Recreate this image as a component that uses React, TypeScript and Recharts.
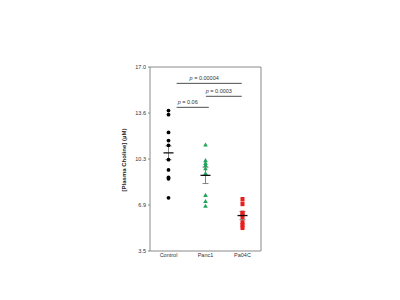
import React from "react";
import {
  ComposedChart,
  Scatter,
  XAxis,
  YAxis,
  ErrorBar,
  ReferenceLine,
} from "recharts";

const groups = ["Control", "Panc1", "Pa04C"];
const yTicks = [3.5, 6.875, 10.25, 13.625, 17.0];
const yMinorTicks = [5.1875, 8.5625, 11.9375, 15.3125];

const controlValues = [13.8, 13.5, 12.2, 11.6, 11.25, 10.2, 9.45, 8.9, 8.8, 7.4];
const panc1Values = [11.3, 10.15, 9.95, 9.8, 9.55, 9.2, 7.6, 7.15, 6.8];
const pa04cValues = [7.3, 6.95, 6.3, 6.2, 6.0, 5.6, 5.4, 5.2];

const groupMeans = [10.7, 9.05, 6.1];
const groupSem = [0.5, 0.6, 0.3];

// significance brackets: [from, to, height, label]
const brackets: [number, number, number, string][] = [
  [1.22, 2.98, 15.8, "0.00004"],
  [2.01, 2.98, 14.85, "0.0003"],
  [1.22, 2.09, 14.04, "0.06"],
];

const AXIS = "#8a8a8a";
const FONT = "Liberation Sans, Arial, sans-serif";

const controlData = controlValues.map((y) => ({ x: 1, y }));
const panc1Data = panc1Values.map((y) => ({ x: 2, y }));
const pa04cData = pa04cValues.map((y) => ({ x: 3, y }));
const meanData = groupMeans.map((y, i) => ({ x: i + 1, y, err: groupSem[i] }));

const Dot = ({ cx, cy }: any) => <circle cx={cx} cy={cy} r={1.9} fill="#000" />;
const Tri = ({ cx, cy }: any) => (
  <polygon
    points={`${cx},${cy - 2.3} ${cx - 2.3},${cy + 1.8} ${cx + 2.3},${cy + 1.8}`}
    fill="#1fa55a"
  />
);
const Sq = ({ cx, cy }: any) => (
  <rect x={cx - 2} y={cy - 2.2} width={4} height={4.4} fill="#ea1d1d" />
);
const MeanMark = ({ cx, cy }: any) => (
  <line x1={cx - 5} x2={cx + 5} y1={cy} y2={cy} stroke="#111" strokeWidth={1.3} />
);

const PLabel = ({ viewBox, text }: any) => {
  const { x, y, width } = viewBox;
  return (
    <text
      x={x + width / 2 - 5}
      y={y - 3}
      textAnchor="middle"
      fontSize={5.5}
      fontFamily={FONT}
      fill="#333"
    >
      <tspan fontStyle="italic">p</tspan>
      {` = ${text}`}
    </text>
  );
};

const YLabel = () => (
  <text
    x={126}
    y={160}
    transform="rotate(-90 126 160)"
    textAnchor="middle"
    fontSize={6}
    fontWeight="bold"
    fontFamily={FONT}
    fill="#222"
  >
    [Plasma Choline] (µM)
  </text>
);

export default function App() {
  return (
    <div style={{ position: "absolute", left: 0, top: 0, background: "#fff" }}>
      <ComposedChart
        width={400}
        height={300}
        margin={{ top: 67, right: 139, bottom: 34, left: 120 }}
      >
        <XAxis
          type="number"
          dataKey="x"
          domain={[0.5, 3.5]}
          ticks={[1, 2, 3]}
          tickFormatter={(v) => groups[v - 1]}
          allowDataOverflow
          height={15}
          stroke={AXIS}
          tickLine={false}
          tickSize={0}
          tickMargin={2}
          tick={{ fontSize: 5.5, fill: "#333", fontFamily: FONT }}
        />
        <YAxis
          yAxisId="main"
          type="number"
          domain={[3.5, 17]}
          ticks={yTicks}
          tickFormatter={(v) => v.toFixed(1)}
          width={30}
          stroke={AXIS}
          tickSize={2}
          tick={{ fontSize: 5.5, fill: "#333", fontFamily: FONT }}
          label={<YLabel />}
        />
        <YAxis
          yAxisId="minor"
          type="number"
          domain={[3.5, 17]}
          ticks={yMinorTicks}
          tickFormatter={() => ""}
          mirror
          width={0}
          axisLine={false}
          tickSize={2}
          stroke={AXIS}
        />
        <ReferenceLine yAxisId="main" y={17} stroke={AXIS} />
        <ReferenceLine yAxisId="main" x={3.5} stroke={AXIS} />
        {brackets.map(([a, b, h, t]) => (
          <ReferenceLine
            key={t}
            yAxisId="main"
            segment={[
              { x: a, y: h },
              { x: b, y: h },
            ]}
            stroke="#222"
            strokeWidth={0.8}
            label={<PLabel text={t} />}
          />
        ))}
        <Scatter yAxisId="main" data={controlData} dataKey="y" shape={<Dot />} isAnimationActive={false} />
        <Scatter yAxisId="main" data={panc1Data} dataKey="y" shape={<Tri />} isAnimationActive={false} />
        <Scatter yAxisId="main" data={pa04cData} dataKey="y" shape={<Sq />} isAnimationActive={false} />
        <Scatter yAxisId="main" data={meanData} dataKey="y" shape={<MeanMark />} isAnimationActive={false}>
          <ErrorBar dataKey="err" direction="y" width={3} stroke="#666" strokeWidth={0.8} />
        </Scatter>
      </ComposedChart>
    </div>
  );
}
